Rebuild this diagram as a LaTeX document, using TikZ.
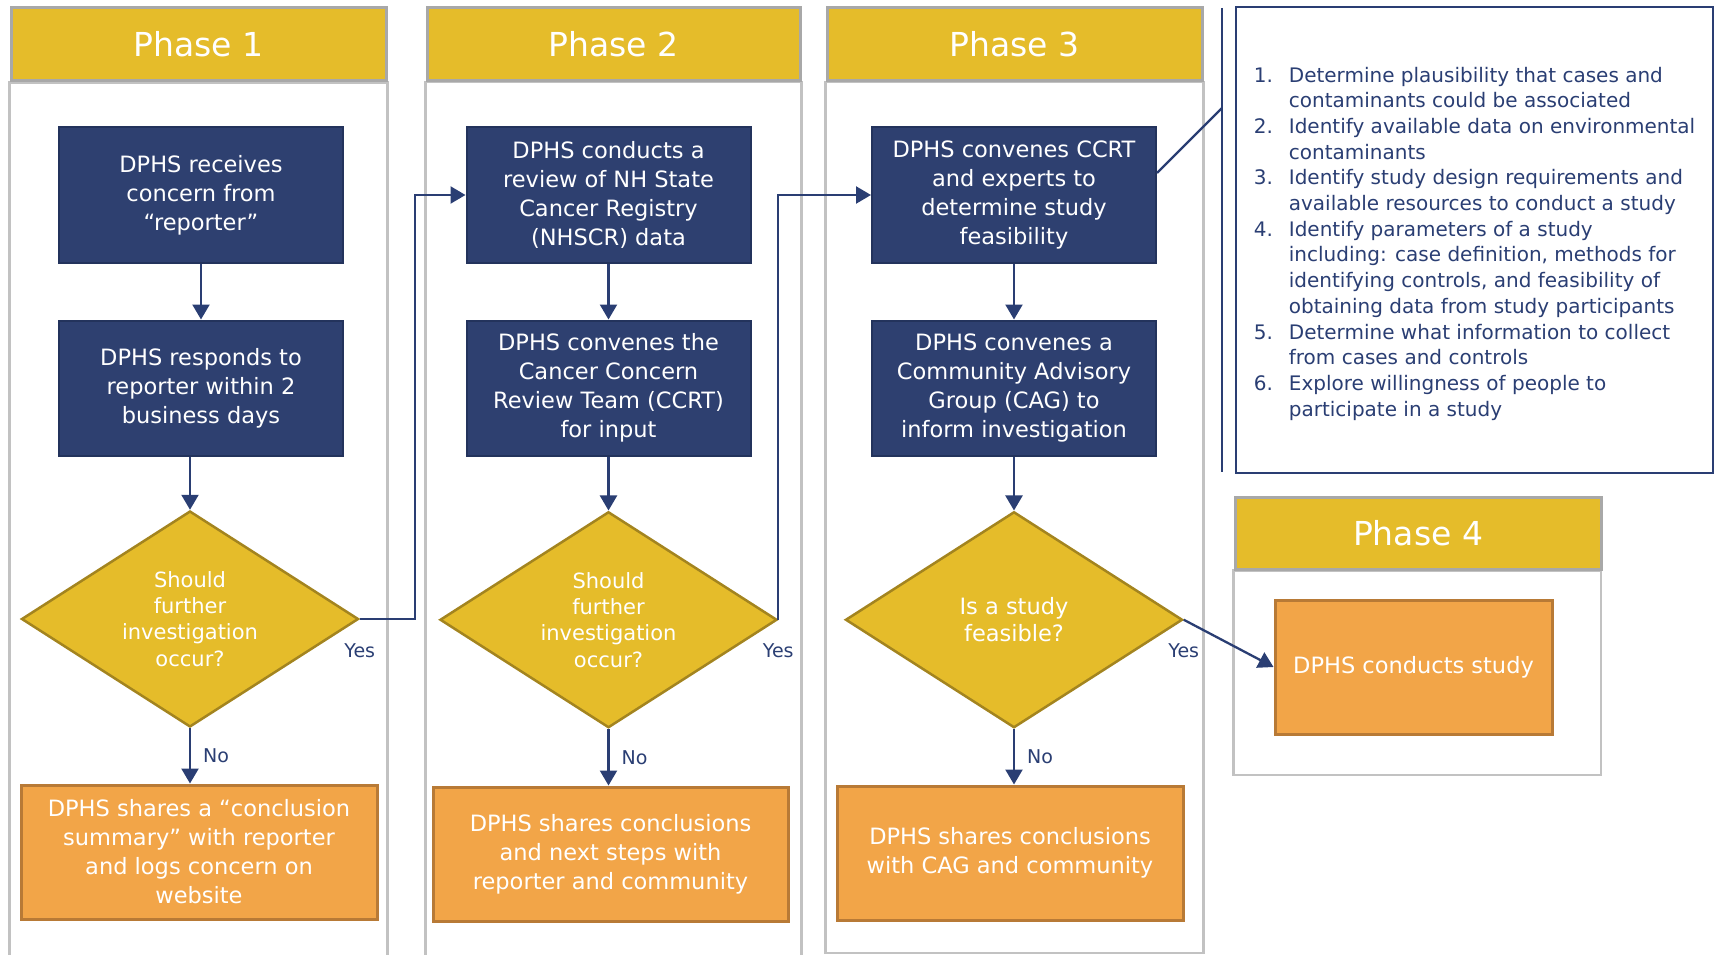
\documentclass[tikz,border=0pt]{standalone}
\usepackage{fontspec}
\setmainfont{DejaVu Sans}
\usetikzlibrary{positioning, shapes.geometric, arrows.meta, backgrounds}
\definecolor{navy}{HTML}{2E4070}
\definecolor{navyline}{HTML}{23335C}
\definecolor{gold}{HTML}{E5BC2A}
\definecolor{goldline}{HTML}{A3841F}
\definecolor{amber}{HTML}{F2A548}
\definecolor{amberline}{HTML}{B87A36}
\definecolor{headline}{HTML}{A8A8A8}
\definecolor{laneline}{HTML}{C2C2C2}
\definecolor{inkblue}{HTML}{2A3E73}

\begin{document}
\begin{tikzpicture}[
        x=1pt, y=-1pt,
        phase/.style={rectangle, draw=headline, line width=3pt, fill=gold, text=white, minimum width=375pt, minimum height=73pt, font=\fontsize{33}{40}\selectfont},
        lane/.style={draw=laneline, line width=2.5pt},
        task/.style={rectangle, draw=navyline, line width=2pt, fill=navy, text=white, minimum width=284pt, minimum height=135pt, align=center, font=\fontsize{22.5}{29}\selectfont},
        check/.style={diamond, draw=goldline, line width=2.5pt, fill=gold, text=white, aspect=1.56, inner sep=0pt, minimum width=337pt, minimum height=216pt, align=center, font=\fontsize{21}{26.3}\selectfont},
        outcome/.style={rectangle, draw=amberline, line width=3pt, fill=amber, text=white, minimum height=134pt, align=center, font=\fontsize{22.5}{29}\selectfont},
        notes/.style={rectangle, draw=inkblue, line width=2.5pt, minimum width=477pt, minimum height=466pt},
        answer/.style={text=inkblue, inner sep=0pt, font=\fontsize{19}{23}\selectfont},
        arrow/.style={-{Triangle[width=17pt,length=15pt]}, line width=2.3pt, draw=inkblue},
        link/.style={line width=2.3pt, draw=inkblue}
    ]

    \useasboundingbox (0,0) rectangle (1716,955);
    \coordinate (floor) at (0,953);
    \coordinate (offpage) at (0,965);

    \node (ph1) [phase] at (198.5,44.5) {Phase 1};
    \node (ph2) [phase, minimum width=373pt] at (613.5,44) {Phase 2};
    \node (ph3) [phase] at (1014.5,44) {Phase 3};
    \node (ph4) [phase, minimum width=366pt, minimum height=72pt] at (1418,533) {Phase 4};

    % Phase 1
    \node (receive) [task] at (201,195) {DPHS receives\\concern from\\“reporter”};
    \node (respond) [task, below=56pt of receive] {DPHS responds to\\reporter within 2\\business days};
    \node (ask1) [check] at (190,619) {Should\\further\\investigation\\occur?};
    \node (summary) [outcome, minimum width=356pt] at (199,852) {DPHS shares a “conclusion\\summary” with reporter\\and logs concern on\\website};

    % Phase 2
    \node (review) [task] at (608.5,195) {DPHS conducts a\\review of NH State\\Cancer Registry\\(NHSCR) data};
    \node (panel) [task, below=56pt of review] {DPHS convenes the\\Cancer Concern\\Review Team (CCRT)\\for input};
    \node (ask2) [check, below=54pt of panel] {Should\\further\\investigation\\occur?};
    \node (share2) [outcome, minimum width=355pt] at (610.5,854) {DPHS shares conclusions\\and next steps with\\reporter and community};

    % Phase 3
    \node (feas) [task] at (1014,195) {DPHS convenes CCRT\\and experts to\\determine study\\feasibility};
    \node (cag) [task, below=56pt of feas] {DPHS convenes a\\Community Advisory\\Group (CAG) to\\inform investigation};
    \node (ask3) [check, below=54pt of cag, font=\fontsize{22.5}{27.7}\selectfont] {Is a study\\feasible?};
    \node (share3) [outcome, minimum width=346pt] at (1010,853) {DPHS shares conclusions\\with CAG and community};

    % Phase 4
    \node (study) [outcome, minimum width=277pt] at (1413.5,667) {DPHS conducts study};

    \node (steps) [notes] at (1474.5,240) {};
    \node (steplist) [text=inkblue, font=\fontsize{20}{25.7}\selectfont, yshift=-4pt] at (steps.center) {%
        \begin{tabular}{@{}l@{\hspace{16pt}}l@{}}
        1. & Determine plausibility that cases and\\
           & contaminants could be associated\\
        2. & Identify available data on environmental\\
           & contaminants\\
        3. & Identify study design requirements and\\
           & available resources to conduct a study\\
        4. & Identify parameters of a study\\
           & including: case definition, methods for\\
           & identifying controls, and feasibility of\\
           & obtaining data from study participants\\
        5. & Determine what information to collect\\
           & from cases and controls\\
        6. & Explore willingness of people to\\
           & participate in a study
        \end{tabular}};

    \begin{scope}[on background layer]
        \draw[lane] (ph1.south west) rectangle (ph1.east |- offpage);
        \draw[lane] (ph2.south west) rectangle (ph2.east |- offpage);
        \draw[lane] (ph3.south west) rectangle (ph3.east |- floor);
        \draw[lane] (ph4.south west) rectangle (1601,775);
    \end{scope}

    \draw [arrow] (receive) -- (respond);
    \draw [arrow] (respond.south -| ask1.north) -- (ask1.north);
    \draw [arrow] (ask1.south) -- node[answer, right=12pt] (no1) {No} (ask1.south |- summary.north);
    \draw [arrow] (ask1.east) -- ++(55,0) |- (review.west);
    \node (yes1) [answer, below=24pt of ask1.east] {Yes};

    \draw [arrow] (review) -- (panel);
    \draw [arrow] (panel) -- (ask2);
    \draw [arrow] (ask2.south) -- node[answer, right=12pt] (no2) {No} (ask2.south |- share2.north);
    \draw [arrow] (ask2.east) |- (feas.west);
    \node (yes2) [answer, below=24pt of ask2.east] {Yes};

    \draw [arrow] (feas) -- (cag);
    \draw [arrow] (cag) -- (ask3);
    \draw [arrow] (ask3.south) -- node[answer, right=12pt] (no3) {No} (ask3.south |- share3.north);
    \draw [arrow] (ask3.east) -- (study.west);
    \node (yes3) [answer, below=24pt of ask3.east] {Yes};

    % bracket tying the feasibility step to its checklist
    \coordinate (bartop) at (1222,8);
    \coordinate (barbot) at (1222,472);
    \coordinate (barhook) at (1222,108);
    \draw [link] (bartop) -- (barbot);
    \draw [link] ([yshift=22pt]feas.east) -- (barhook);

\end{tikzpicture}
\end{document}
